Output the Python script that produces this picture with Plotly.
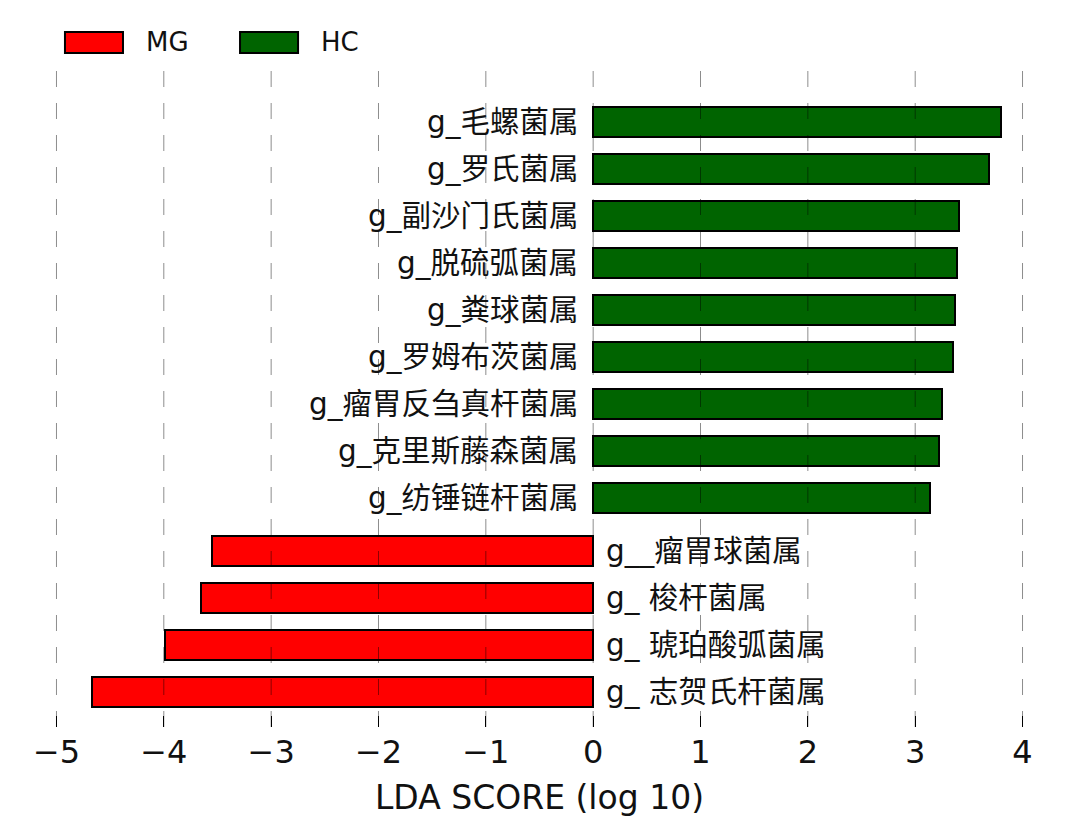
import plotly.graph_objects as go

# ---- data (top to bottom) ----
hc_names = ["g_毛螺菌属", "g_罗氏菌属", "g_副沙门氏菌属", "g_脱硫弧菌属", "g_粪球菌属",
            "g_罗姆布茨菌属", "g_瘤胃反刍真杆菌属", "g_克里斯藤森菌属", "g_纺锤链杆菌属"]
hc_lda = [3.80, 3.69, 3.41, 3.39, 3.37, 3.35, 3.25, 3.22, 3.14]

mg_names = ["g__瘤胃球菌属", "g_ 梭杆菌属", "g_ 琥珀酸弧菌属", "g_ 志贺氏杆菌属"]
mg_lda = [-3.55, -3.65, -3.99, -4.67]

x_ticks = [-5, -4, -3, -2, -1, 0, 1, 2, 3, 4]
classes = ["MG", "HC"]

# ---- styling ----
RED = "#FF0000"
GREEN = "#006400"
GROUP_GAP = 0.13
BAR_W = 0.63
LABEL_FONT = dict(family="DejaVu Sans, Noto Sans CJK SC", size=29.5, color="#111")

hc_pos = [i for i in range(len(hc_names))]
mg_pos = [len(hc_names) + GROUP_GAP + i for i in range(len(mg_names))]

fig = go.Figure()
fig.add_trace(go.Bar(x=hc_lda, y=hc_pos, orientation="h", width=BAR_W, name="HC",
                     marker=dict(color=GREEN, line=dict(color="black", width=2)),
                     showlegend=False))
fig.add_trace(go.Bar(x=mg_lda, y=mg_pos, orientation="h", width=BAR_W, name="MG",
                     marker=dict(color=RED, line=dict(color="black", width=2)),
                     showlegend=False))

# feature labels next to the zero line
for name, p in zip(hc_names, hc_pos):
    fig.add_annotation(x=0, y=p, xref="x", yref="y", text=name, showarrow=False,
                       xanchor="right", yanchor="middle", xshift=-13, font=LABEL_FONT)
for name, p in zip(mg_names, mg_pos):
    fig.add_annotation(x=0, y=p, xref="x", yref="y", text=name, showarrow=False,
                       xanchor="left", yanchor="middle", xshift=11, font=LABEL_FONT)

# dashed grid lines drawn above bars
for t in x_ticks:
    fig.add_shape(type="line", xref="x", yref="paper", x0=t, x1=t, y0=0, y1=1,
                  line=dict(color="rgba(0,0,0,0.45)", width=1, dash="16px,16px"),
                  layer="above")

# manual legend (wide patches as in the original)
legend_colors = {"MG": RED, "HC": GREEN}
lx = 0.0297
for cls in classes:
    fig.add_shape(type="rect", xref="paper", yref="paper", x0=lx, x1=lx + 0.0575,
                  y0=1.0151, y1=1.0467, fillcolor=legend_colors[cls],
                  line=dict(color="black", width=2))
    fig.add_annotation(xref="paper", yref="paper", x=lx + 0.078, y=1.031, text=cls,
                       showarrow=False, xanchor="left", yanchor="middle",
                       font=dict(family="DejaVu Sans", size=26, color="#111"))
    lx += 0.1735

n_total = len(hc_names) + len(mg_names)
fig.update_layout(
    width=1080, height=825,
    margin=dict(l=35, r=36, t=63, b=98),
    plot_bgcolor="white", paper_bgcolor="white",
    bargap=0,
    font=dict(family="DejaVu Sans", color="#111"),
    xaxis=dict(range=[-5.2, 4.2], tickvals=x_ticks, showgrid=False, zeroline=False,
               showline=False, ticks="inside", ticklen=11, tickwidth=1, tickcolor="black",
               tickfont=dict(size=32, family="DejaVu Sans", color="#111"),
               ticklabelstandoff=3,
               title=dict(text="LDA SCORE (log 10)", standoff=15,
                          font=dict(size=33, family="DejaVu Sans", color="#111"))),
    yaxis=dict(range=[n_total - 1 + GROUP_GAP + 0.745, -1.255], showgrid=False,
               zeroline=False, showticklabels=False, ticks="", showline=False),
)

fig.write_html("out.html")
